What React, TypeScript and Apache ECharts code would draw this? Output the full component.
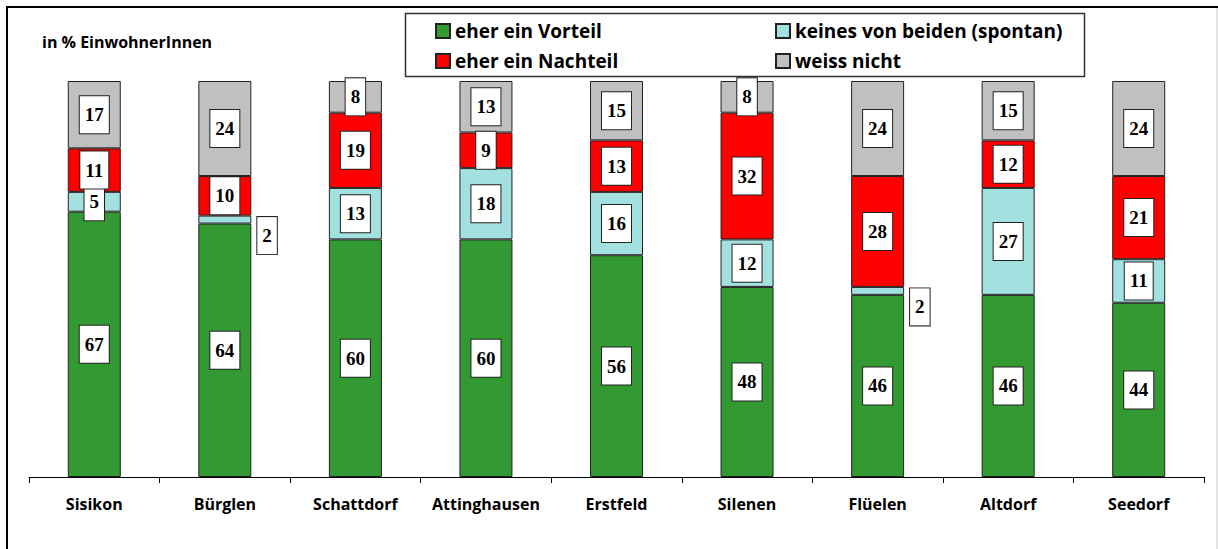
import React, { useEffect, useRef } from "react";
import * as echarts from "echarts";

const categories = ["Sisikon", "Bürglen", "Schattdorf", "Attinghausen", "Erstfeld", "Silenen", "Flüelen", "Altdorf", "Seedorf"];
const seriesNames = ["eher ein Vorteil", "keines von beiden (spontan)", "eher ein Nachteil", "weiss nicht"];
const vorteil = [67, 64, 60, 60, 56, 48, 46, 46, 44];
const keines = [5, 2, 13, 18, 16, 12, 2, 27, 11];
const nachteil = [11, 10, 19, 9, 13, 32, 28, 12, 21];
const weissNicht = [17, 24, 8, 13, 15, 8, 24, 15, 24];
const colors = ["#339933", "#a3e0e0", "#ff0000", "#c0c0c0"];
const yTitle = "in % EinwohnerInnen";

export default function App() {
  const ref = useRef<HTMLDivElement>(null);
  useEffect(() => {
    document.body.style.margin = "0";
    const chart = echarts.init(ref.current!, null, { renderer: "svg" });
    const values = [vorteil, keines, nachteil, weissNicht];
    const labelBase = {
      show: true,
      position: "inside",
      color: "#000",
      fontFamily: "Liberation Serif",
      fontWeight: "bold",
      fontSize: 19,
      lineHeight: 19,
      backgroundColor: "#fff",
      borderColor: "#222",
      borderWidth: 1,
      padding: [9, 5, 9, 5],
    };
    const series = seriesNames.map((name, si) => ({
      name,
      type: "bar",
      stack: "total",
      barWidth: 53,
      itemStyle: { color: colors[si], borderColor: "#222", borderWidth: 1 },
      label: labelBase,
      data: values[si].map((v) =>
        v <= 3
          ? { value: v, label: { ...labelBase, position: "right", distance: 6, offset: [0, 16] } }
          : v
      ),
    }));
    const legendText = { color: "#000", fontFamily: "Open Sans", fontWeight: "bold", fontSize: 19, lineHeight: 20 };
    chart.setOption({
      animation: false,
      backgroundColor: "#fff",
      grid: { left: 29, right: 14, top: 81, bottom: 72 },
      xAxis: {
        type: "category",
        data: categories,
        axisLine: { lineStyle: { color: "#000", width: 1 } },
        axisTick: { show: true, interval: 0, length: 6, lineStyle: { color: "#000" } },
        axisLabel: { interval: 0, color: "#000", fontFamily: "Open Sans", fontWeight: "bold", fontSize: 16, margin: 19 },
      },
      yAxis: { type: "value", min: 0, max: 100, show: false },
      legend: [
        {
          data: [seriesNames[0], seriesNames[2]],
          orient: "vertical",
          left: 430,
          top: 16,
          icon: "rect",
          itemWidth: 14,
          itemHeight: 14,
          itemGap: 10,
          textStyle: legendText,
          z: 10,
        },
        {
          data: [seriesNames[1], seriesNames[3]],
          orient: "vertical",
          left: 770,
          top: 16,
          icon: "rect",
          itemWidth: 14,
          itemHeight: 14,
          itemGap: 10,
          textStyle: legendText,
          z: 10,
        },
      ],
      graphic: [
        { type: "line", shape: { x1: 7, y1: 7, x2: 1218, y2: 7 }, style: { stroke: "#000", lineWidth: 2 } },
        { type: "line", shape: { x1: 7, y1: 6, x2: 7, y2: 549 }, style: { stroke: "#000", lineWidth: 2 } },
        { type: "line", shape: { x1: 1217, y1: 8, x2: 1217, y2: 549 }, style: { stroke: "#ccc", lineWidth: 1 } },
        {
          type: "rect",
          z: 1,
          shape: { x: 405.5, y: 13.5, width: 679, height: 63 },
          style: { fill: "#fff", stroke: "#333", lineWidth: 1.5 },
        },
        {
          type: "text",
          left: 42,
          top: 34,
          style: { text: yTitle, fill: "#000", font: "bold 16px 'Open Sans'" },
        },
      ],
      series,
    });
    return () => chart.dispose();
  }, []);
  return <div ref={ref} style={{ width: 1218, height: 549 }} />;
}
